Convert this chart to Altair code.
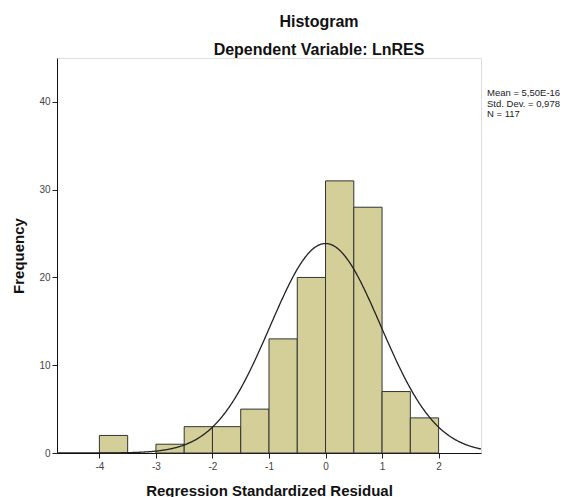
import altair as alt
import pandas as pd

bin_start = [-4.0, -3.0, -2.5, -2.0, -1.5, -1.0, -0.5, 0.0, 0.5, 1.0, 1.5]
bin_end = [-3.5, -2.5, -2.0, -1.5, -1.0, -0.5, 0.0, 0.5, 1.0, 1.5, 2.0]
counts = [2, 1, 3, 3, 5, 13, 20, 31, 28, 7, 4]
x_ticks = [-4, -3, -2, -1, 0, 1, 2]
y_ticks = [0, 10, 20, 30, 40]
mean_val = 5.50e-16
sd_val = 0.978
n_val = 117
bin_width = 0.5
stats_lines = ["Mean = 5,50E-16", "Std. Dev. = 0,978", "N = 117"]

bars_df = pd.DataFrame({"start": bin_start, "end": bin_end, "count": counts})

xscale = alt.Scale(domain=[-4.75, 2.75], nice=False, zero=False)
yscale = alt.Scale(domain=[0, 45], nice=False)

xaxis = alt.Axis(values=x_ticks, title="Regression Standardized Residual",
                 labelExpr="toString(datum.value)",
                 titleFontSize=15, titleFontWeight="bold", titleColor="#111",
                 titlePadding=12, labelFontSize=10, labelColor="#444",
                 tickColor="#222", domainColor="#111", tickSize=5, grid=False,
                 labelPadding=3)
yaxis = alt.Axis(values=y_ticks, title="Frequency", titleFontSize=15,
                 labelExpr="toString(datum.value)",
                 titleFontWeight="bold", titleColor="#111", titlePadding=12,
                 labelFontSize=10, labelColor="#444", tickColor="#222",
                 domainColor="#111", tickSize=5, grid=False, labelPadding=2)

bars = alt.Chart(bars_df).mark_rect(fill="#d4cf99", stroke="#333333",
                                    strokeWidth=1).encode(
    x=alt.X("start:Q", scale=xscale, axis=xaxis),
    x2="end:Q",
    y=alt.Y("count:Q", scale=yscale, axis=yaxis),
    y2=alt.datum(0),
)

curve = alt.Chart(alt.sequence(-4.75, 2.7501, 0.01, as_="x")).transform_calculate(
    dens=f"{n_val}*{bin_width}*exp(-0.5*pow((datum.x-({mean_val}))/{sd_val},2))/({sd_val}*sqrt(2*PI))"
).mark_line(color="#222222", strokeWidth=1.3, clip=True).encode(
    x=alt.X("x:Q", scale=xscale),
    y=alt.Y("dens:Q", scale=yscale),
)

stats_df = pd.DataFrame({"t": ["\n".join(stats_lines)]})
stats = alt.Chart(stats_df).mark_text(
    align="left", baseline="top", fontSize=9.5, lineBreak="\n", lineHeight=10.5,
    color="#222", font="Liberation Sans"
).encode(
    x=alt.value(430), y=alt.value(30), text="t:N"
)

chart = (bars + curve + stats).properties(
    width=424, height=395,
    autosize=alt.AutoSizeParams(type="none"),
    padding={"left": 49, "top": 50, "right": 85, "bottom": 46},
    title=alt.TitleParams(
        "Histogram", subtitle="Dependent Variable: LnRES",
        anchor="middle", fontSize=16, fontWeight="bold", color="#111",
        subtitleFontSize=16, subtitleFontWeight="bold", subtitleColor="#111",
        subtitlePadding=12, offset=0, dx=50, font="Liberation Sans",
        subtitleFont="Liberation Sans"
    ),
).configure_view(
    stroke="#111", fill="#f0f0f0", strokeWidth=1
).configure(font="Liberation Sans")

chart.save("out.html", embed_options={"renderer": "svg", "actions": False})
